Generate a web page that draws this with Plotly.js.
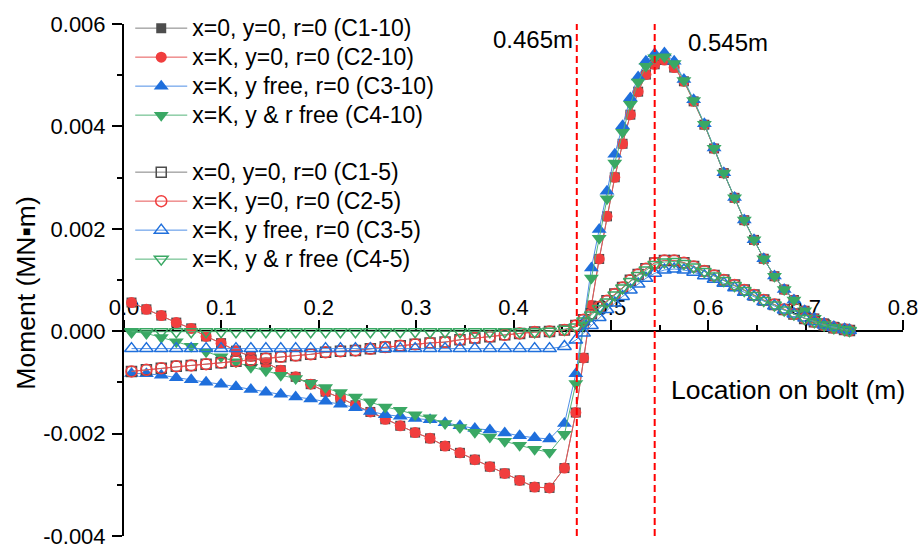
<!DOCTYPE html>
<html>
<head>
<meta charset="utf-8">
<script src="https://cdn.plot.ly/plotly-3.0.1.min.js"></script>
<style>html,body{margin:0;padding:0;background:#fff;}#chart{width:921px;height:544px;}</style>
</head>
<body>
<div id="chart"></div>
<script>
// Location on bolt (m)
var xLoc = [0.0077,0.0230,0.0383,0.0537,0.0690,0.0843,0.0997,0.1150,0.1303,0.1457,
0.1610,0.1763,0.1917,0.2070,0.2223,0.2377,0.2530,0.2683,0.2837,0.2990,
0.3143,0.3297,0.3450,0.3603,0.3757,0.3910,0.4063,0.4217,0.4370,0.4523,
0.464,0.472,0.480,0.488,0.496,0.504,0.512,0.520,0.528,0.536,
0.545,0.555,0.565,0.575,0.585,0.596,0.606,0.616,0.627,0.637,
0.647,0.657,0.668,0.678,0.688,0.699,0.709,0.719,0.729,0.740,0.745];

// Moment (MN·m)
var c1_10 = [0.000560,0.000427,0.000305,0.000168,0.000055,-0.000102,-0.000233,-0.000380,-0.000493,-0.000614,
-0.000761,-0.000892,-0.001035,-0.001182,-0.001303,-0.001446,-0.001577,-0.001720,-0.001847,-0.001980,
-0.002092,-0.002243,-0.002376,-0.002509,-0.002646,-0.002777,-0.002914,-0.003045,-0.003061,-0.002673,
-0.001589,-0.000521,0.000501,0.001411,0.002243,0.003006,0.003661,0.004229,0.004679,0.005012,
0.005213,0.005296,0.005149,0.004881,0.004489,0.004033,0.003569,0.003088,0.002605,0.002168,
0.001783,0.001415,0.001074,0.000814,0.000609,0.000399,0.000250,0.000153,0.000086,0.000035,0.000008];
var c2_10 = [0.000560,0.000427,0.000305,0.000168,0.000055,-0.000102,-0.000233,-0.000380,-0.000493,-0.000614,
-0.000761,-0.000892,-0.001035,-0.001182,-0.001303,-0.001446,-0.001577,-0.001720,-0.001847,-0.001980,
-0.002092,-0.002243,-0.002376,-0.002509,-0.002646,-0.002777,-0.002914,-0.003045,-0.003061,-0.002673,
-0.001589,-0.000521,0.000501,0.001411,0.002243,0.003006,0.003661,0.004229,0.004679,0.005012,
0.005213,0.005296,0.005149,0.004881,0.004489,0.004033,0.003569,0.003088,0.002605,0.002168,
0.001783,0.001415,0.001074,0.000814,0.000609,0.000399,0.000250,0.000153,0.000086,0.000035,0.000008];
var c3_10 = [-0.000826,-0.000830,-0.000859,-0.000908,-0.000947,-0.000996,-0.001035,-0.001084,-0.001139,-0.001192,
-0.001231,-0.001284,-0.001323,-0.001368,-0.001427,-0.001495,-0.001569,-0.001632,-0.001661,-0.001706,
-0.001730,-0.001789,-0.001847,-0.001902,-0.001930,-0.001990,-0.002043,-0.002082,-0.002106,-0.001804,
-0.000830,0.000178,0.001235,0.001988,0.002732,0.003456,0.004014,0.004556,0.004963,0.005272,
0.005417,0.005436,0.005272,0.004914,0.004520,0.004050,0.003580,0.003095,0.002610,0.002172,
0.001786,0.001417,0.001076,0.000816,0.000610,0.000400,0.000251,0.000154,0.000087,0.000036,0.000009];
var c4_10 = [-0.000008,-0.000043,-0.000121,-0.000207,-0.000292,-0.000399,-0.000501,-0.000599,-0.000703,-0.000771,
-0.000859,-0.000924,-0.001016,-0.001100,-0.001198,-0.001284,-0.001378,-0.001479,-0.001544,-0.001632,
-0.001691,-0.001804,-0.001881,-0.001975,-0.002067,-0.002151,-0.002229,-0.002307,-0.002366,-0.002014,
-0.001022,0.000119,0.001039,0.001816,0.002585,0.003284,0.003886,0.004431,0.004865,0.005174,
0.005339,0.005358,0.005227,0.004895,0.004505,0.004042,0.003575,0.003092,0.002608,0.002170,
0.001785,0.001416,0.001075,0.000815,0.000610,0.000400,0.000251,0.000154,0.000087,0.000036,0.000009];
var c1_5 = [-0.000785,-0.000755,-0.000722,-0.000687,-0.000669,-0.000644,-0.000614,-0.000585,-0.000566,-0.000532,
-0.000501,-0.000477,-0.000452,-0.000413,-0.000393,-0.000376,-0.000344,-0.000311,-0.000282,-0.000256,
-0.000229,-0.000213,-0.000168,-0.000135,-0.000106,-0.000070,-0.000043,-0.000018,-0.000004,0.000022,
0.000110,0.000225,0.000341,0.000472,0.000593,0.000726,0.000853,0.000994,0.001108,0.001221,
0.001333,0.001382,0.001382,0.001339,0.001264,0.001176,0.001088,0.001000,0.000902,0.000804,
0.000706,0.000609,0.000521,0.000423,0.000335,0.000250,0.000184,0.000119,0.000067,0.000035,0.000012];
var c2_5 = [-0.000785,-0.000755,-0.000722,-0.000687,-0.000669,-0.000644,-0.000614,-0.000585,-0.000566,-0.000532,
-0.000501,-0.000477,-0.000452,-0.000413,-0.000393,-0.000376,-0.000344,-0.000311,-0.000282,-0.000256,
-0.000229,-0.000213,-0.000168,-0.000135,-0.000106,-0.000070,-0.000043,-0.000018,-0.000004,0.000022,
0.000110,0.000225,0.000341,0.000472,0.000593,0.000726,0.000853,0.000994,0.001108,0.001221,
0.001333,0.001382,0.001382,0.001339,0.001264,0.001176,0.001088,0.001000,0.000902,0.000804,
0.000706,0.000609,0.000521,0.000423,0.000335,0.000250,0.000184,0.000119,0.000067,0.000035,0.000012];
var c3_5 = [-0.000340,-0.000340,-0.000340,-0.000340,-0.000340,-0.000340,-0.000340,-0.000340,-0.000340,-0.000340,
-0.000340,-0.000340,-0.000340,-0.000340,-0.000340,-0.000340,-0.000340,-0.000340,-0.000340,-0.000340,
-0.000340,-0.000340,-0.000340,-0.000340,-0.000340,-0.000340,-0.000340,-0.000340,-0.000340,-0.000300,
-0.000174,-0.000037,0.000110,0.000266,0.000423,0.000550,0.000677,0.000804,0.000920,0.001033,
0.001131,0.001196,0.001215,0.001196,0.001151,0.001084,0.001014,0.000935,0.000849,0.000759,
0.000673,0.000575,0.000491,0.000413,0.000335,0.000256,0.000184,0.000119,0.000074,0.000035,0.000016];
var c4_5 = [-0.000010,-0.000010,-0.000010,-0.000010,-0.000010,-0.000010,-0.000010,-0.000010,-0.000010,-0.000010,
-0.000010,-0.000010,-0.000010,-0.000010,-0.000010,-0.000010,-0.000010,-0.000010,-0.000010,-0.000010,
-0.000010,-0.000010,-0.000010,-0.000010,-0.000010,-0.000010,-0.000010,-0.000010,0.000000,0.000040,
0.000080,0.000198,0.000315,0.000442,0.000569,0.000706,0.000843,0.000971,0.001088,0.001196,
0.001303,0.001352,0.001362,0.001323,0.001254,0.001166,0.001078,0.000990,0.000892,0.000795,
0.000697,0.000599,0.000511,0.000413,0.000335,0.000250,0.000184,0.000119,0.000067,0.000035,0.000012];

var seriesNames = ['x=0, y=0, r=0 (C1-10)','x=K, y=0, r=0 (C2-10)','x=K, y free, r=0 (C3-10)','x=K, y &amp; r free (C4-10)',
                   'x=0, y=0, r=0 (C1-5)','x=K, y=0, r=0 (C2-5)','x=K, y free, r=0 (C3-5)','x=K, y &amp; r free (C4-5)'];
var seriesValues = [c1_10, c2_10, c3_10, c4_10, c1_5, c2_5, c3_5, c4_5];
var seriesGroups = ['g10','g10','g10','g10','g5','g5','g5','g5'];

var yTickVals = [-0.004,-0.002,0,0.002,0.004,0.006];
var yTickText = ['-0.004','-0.002','0.000','0.002','0.004','0.006'];
var yMinorVals = [-0.003,-0.001,0.001,0.003,0.005];

var markerLines = [0.465, 0.545];
var markerLabels = ['0.465m','0.545m'];

var symbols = ['square','circle','triangle-up','triangle-down','square-open','circle-open','triangle-up-open','triangle-down-open'];
var mColors = ['#4d4d4d','#f03e3e','#1f6fdc','#3aa864','#4d4d4d','#f03e3e','#1f6fdc','#3aa864'];
var lColors = ['#808080','#e65555','#4f8fe6','#55b47a','#808080','#e65555','#4f8fe6','#55b47a'];
var mSizes = [10,11,13,13,10,11,12,12];

var traces = seriesValues.map(function(v,i){
  return {
    x: xLoc, y: v, type:'scatter', mode:'lines+markers',
    name: '<span style="font-size:23px">'+seriesNames[i]+'</span>',
    legendgroup: seriesGroups[i],
    line:{color:lColors[i], width:1},
    marker:{symbol:symbols[i], size:mSizes[i], color:mColors[i],
            line:{width: i>=4 ? 1.5 : 0, color:mColors[i]}},
    hoverinfo:'x+y'
  };
});

var shapes = markerLines.map(function(xv){
  return {type:'line', xref:'x', yref:'y', x0:xv, x1:xv, y0:-0.004, y1:0.006,
          line:{color:'#ff0000', width:2, dash:'7px,4px'}};
});

var annotations = [
  {text:markerLabels[0], xref:'x', x:markerLines[0], xanchor:'right', xshift:-2,
   yref:'paper', y:0.969, yanchor:'middle', showarrow:false, font:{size:24, color:'#000'}},
  {text:markerLabels[1], xref:'x', x:markerLines[1], xanchor:'left', xshift:31,
   yref:'paper', y:0.964, yanchor:'middle', showarrow:false, font:{size:24, color:'#000'}},
  {text:'Location on bolt (m)', xref:'paper', x:0.699, xanchor:'left',
   yref:'paper', y:0.285, yanchor:'middle', showarrow:false, font:{size:26.5, color:'#000'}},
  {text:'Moment (MN▪m)', xref:'paper', x:-0.126, xanchor:'center',
   yref:'paper', y:0.475, yanchor:'middle', textangle:-90, showarrow:false, font:{size:26.5, color:'#000'}}
];

var layout = {
  width:921, height:544,
  margin:{l:124, r:18, t:24, b:8, pad:0},
  paper_bgcolor:'#fff', plot_bgcolor:'#fff',
  font:{family:'"Liberation Sans", Arial, sans-serif', color:'#000', size:22},
  showlegend:true,
  legend:{x:0.008, y:1.03, xanchor:'left', yanchor:'top', font:{size:20},
          bgcolor:'rgba(0,0,0,0)', traceorder:'grouped', tracegroupgap:28, itemwidth:52},
  xaxis:{range:[0,0.8], anchor:'free', position:0.4, side:'top',
         showline:true, linecolor:'#000', linewidth:2, zeroline:false, showgrid:false,
         ticks:'outside', ticklen:10, tickwidth:2, tickcolor:'#000',
         dtick:0.1, tick0:0, tickformat:'.1f', tickfont:{size:22}, ticklabelstandoff:-4,
         minor:{dtick:0.05, ticks:'outside', ticklen:5, tickwidth:2, tickcolor:'#000'},
         layer:'below traces', fixedrange:true},
  yaxis:{range:[-0.004,0.006], showline:true, linecolor:'#000', linewidth:2,
         zeroline:false, showgrid:false, ticks:'outside', ticklen:10, tickwidth:2, tickcolor:'#000',
         tickmode:'array', tickvals:yTickVals, ticktext:yTickText, tickfont:{size:22},
         ticklabeloverflow:'allow', ticklabelstandoff:2,
         minor:{tickmode:'array', tickvals:yMinorVals, ticks:'outside', ticklen:5, tickwidth:2, tickcolor:'#000'},
         fixedrange:true},
  shapes:shapes,
  annotations:annotations
};

Plotly.newPlot('chart', traces, layout, {displayModeBar:false});
</script>
</body>
</html>
